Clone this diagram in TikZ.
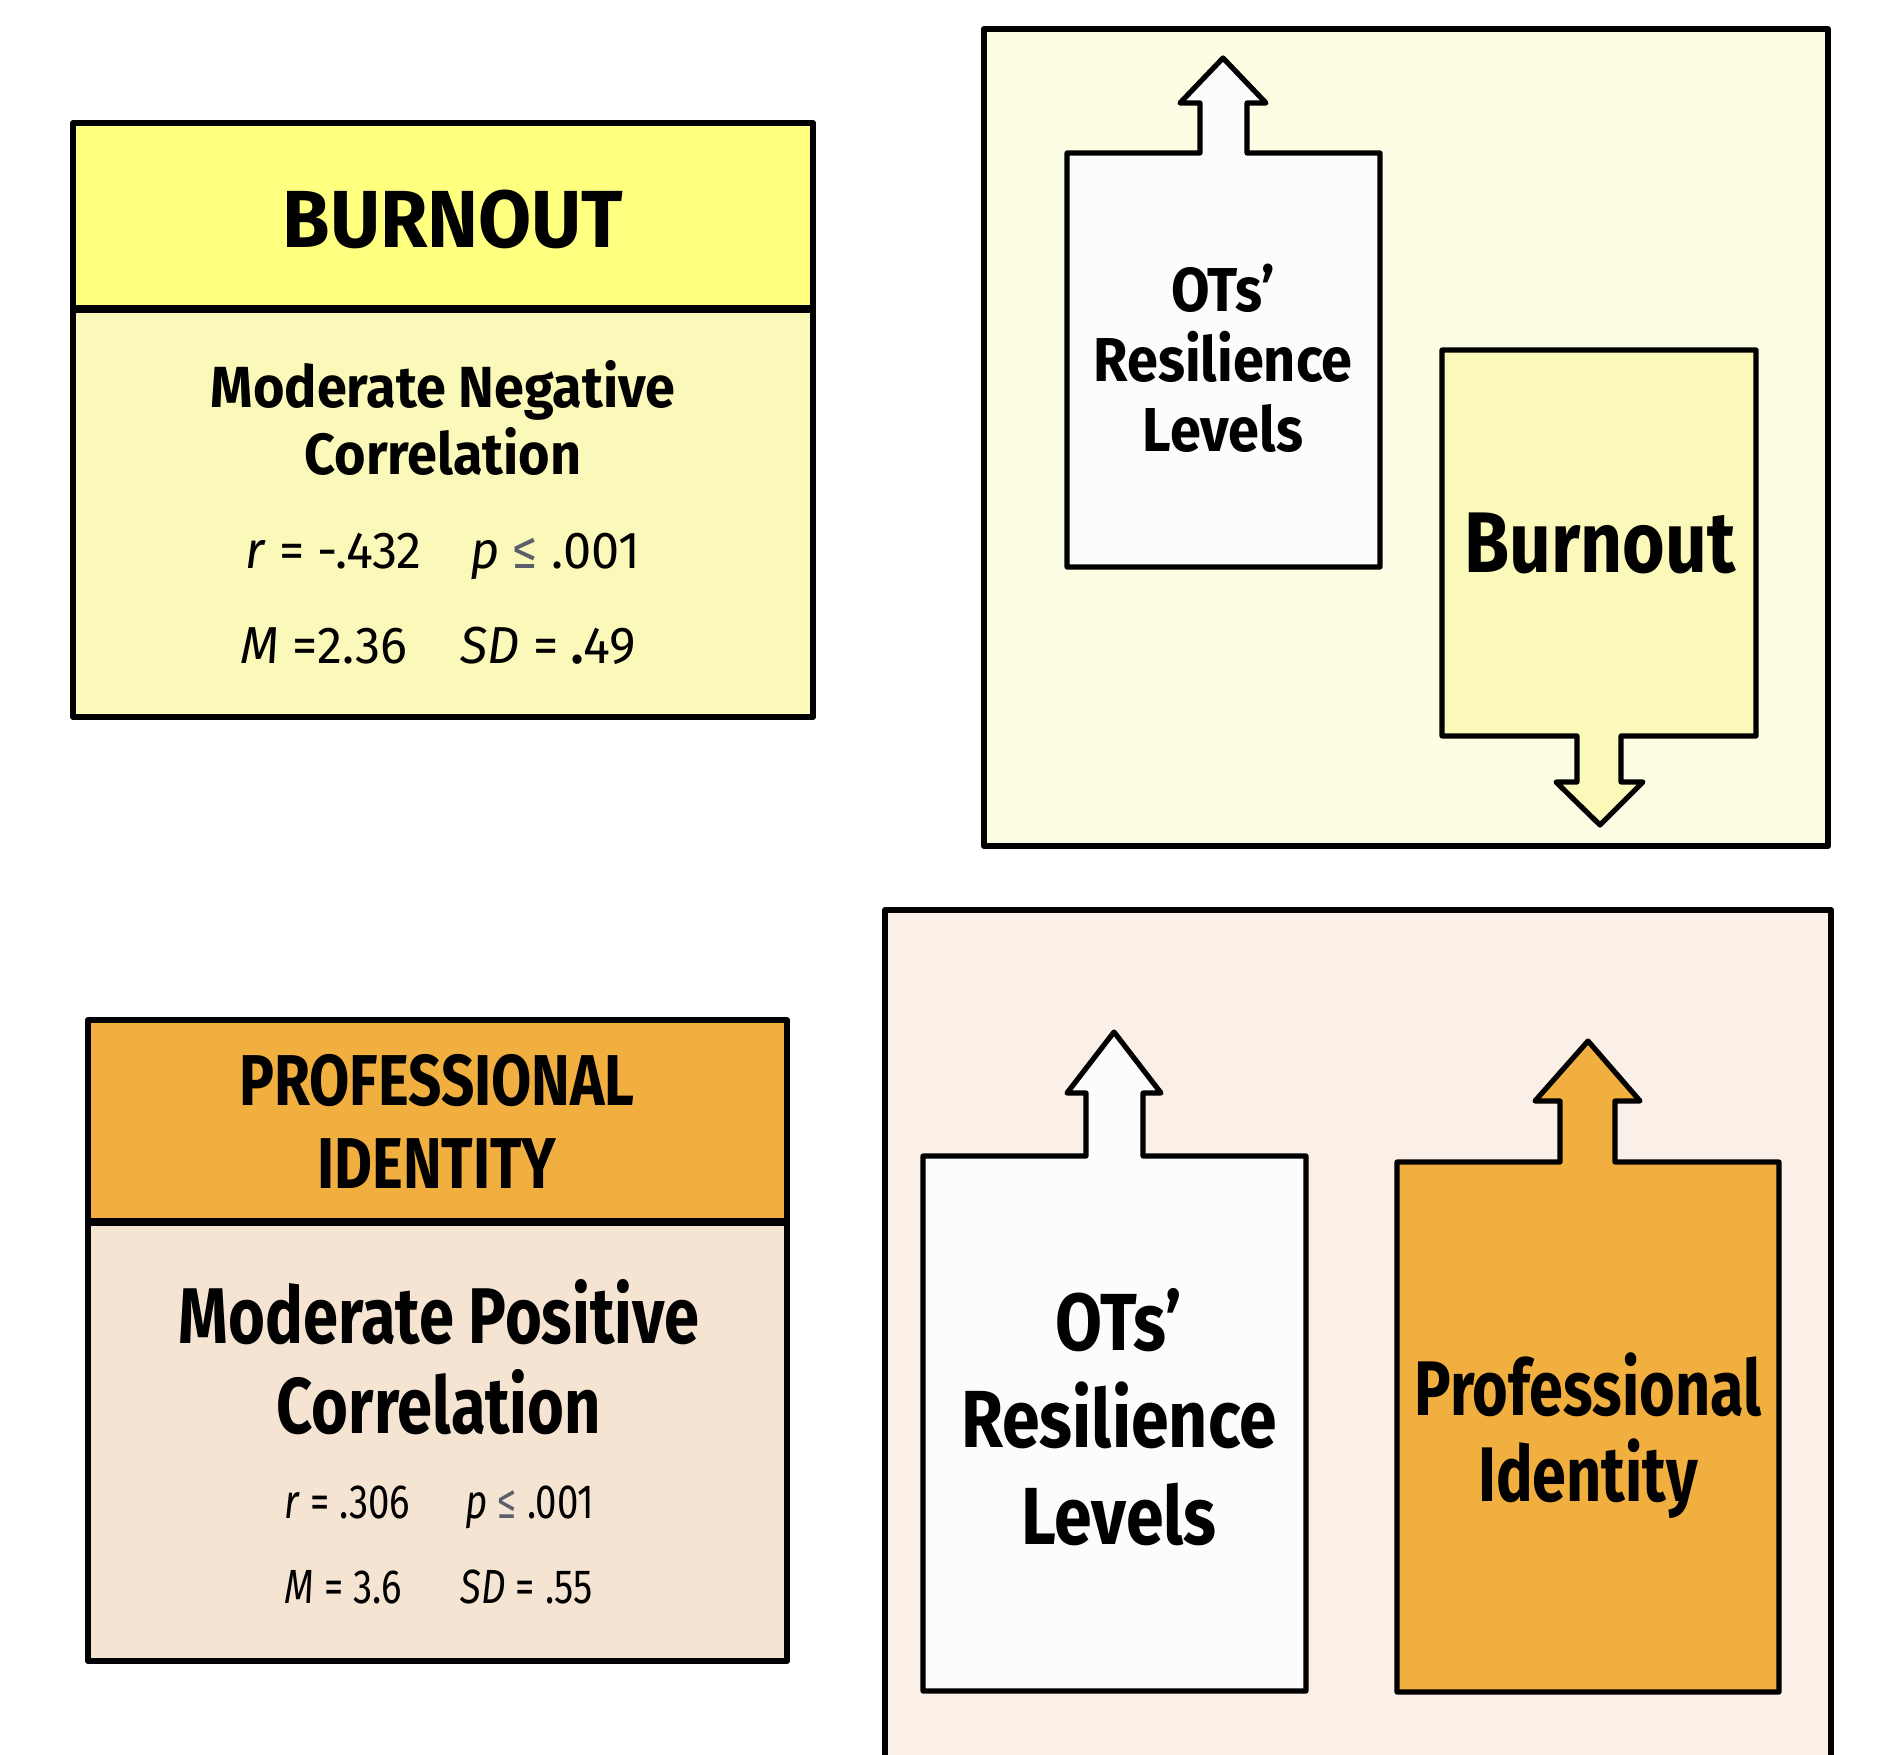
\documentclass[tikz,border=0pt]{standalone}
\usepackage{fontspec}
\setmainfont{Fira Sans}[FakeStretch=0.85]
% Fira Sans at several horizontal compressions
\newfontfamily\wBurnHead{Fira Sans}[FakeStretch=0.95]
\newfontfamily\wNegCorr{Fira Sans}[FakeStretch=0.93]
\newfontfamily\wStatTop{Fira Sans}[FakeStretch=0.97]
\newfontfamily\wResTop{Fira Sans}[FakeStretch=0.90]
\newfontfamily\wBurn{Fira Sans}[FakeStretch=0.85]
\newfontfamily\wProfHead{Fira Sans}[FakeStretch=0.81]
\newfontfamily\wPosCorr{Fira Sans}[FakeStretch=0.80]
\newfontfamily\wStatBot{Fira Sans}[FakeStretch=0.80]
\newfontfamily\wResBot{Fira Sans}[FakeStretch=0.84]
\newfontfamily\wProf{Fira Sans}[FakeStretch=0.79]
\definecolor{hdrY}{HTML}{FFFF80}
\definecolor{bodyY}{HTML}{FBF9B9}
\definecolor{panelY}{HTML}{FDFDE3}
\definecolor{hdrO}{HTML}{F1AF40}
\definecolor{bodyO}{HTML}{F6E4D2}
\definecolor{panelO}{HTML}{FBF0E7}
\definecolor{paper}{HTML}{FCFCFC}
\definecolor{leq}{HTML}{5A5F6A}
\tikzset{
  frame/.style={draw=black, line width=3pt, line join=round},
  divider/.style={draw=black, line width=4pt},
  arrowbox/.style={draw=black, line width=2.6pt, line join=round},
  lbl/.style={align=center, inner sep=0pt, text=black},
  stat/.style={inner sep=0pt, text=black, anchor=base west}
}
\newcommand{\fs}[2]{\fontsize{#1pt}{#2pt}\selectfont}
\begin{document}
\begin{tikzpicture}[x=0.5pt,y=-0.5pt]
\useasboundingbox (0,0) rectangle (1880,1755);
\clip (0,0) rectangle (1880,1755);

% ---------- Burnout summary card ----------
\fill[bodyY] (73,309) rectangle (813,717);
\fill[hdrY] (73,123) rectangle (813,309);
\draw[frame] (73,123) rectangle (813,717);
\draw[divider] (73,309) -- (813,309);
\node[lbl, font=\wBurnHead\bfseries\fs{40.5}{44}] (bhead) at (453,219) {BURNOUT};
\node[lbl, font=\wNegCorr\bfseries\fs{29}{33.5}] (bcorr) at (443,418) {Moderate Negative\\Correlation};
\node[stat, font=\wStatTop\fs{26}{30}] (br) at (245,568) {\textit{r} = -.432};
\node[stat, font=\wStatTop\fs{26}{30}] (bp) at (470,568) {\textit{p} {\color{leq}≤} .001};
\node[stat, font=\wStatTop\fs{26}{30}] (bm) at (240,663) {\textit{M} =2.36};
\node[stat, font=\wStatTop\fs{26}{30}] (bsd) at (460,663) {\textit{SD} = \textbf{.}49};

% ---------- Burnout relation panel ----------
\draw[frame, fill=panelY] (984,29) rectangle (1828,846);
\draw[arrowbox, fill=paper]
  (1067,567) -- (1067,153) -- (1200,153) -- (1200,103) -- (1180,103) -- (1223,58)
  -- (1266,103) -- (1247,103) -- (1247,153) -- (1380,153) -- (1380,567) -- cycle;
\draw[arrowbox, fill=bodyY]
  (1442,350) -- (1756,350) -- (1756,736) -- (1621,736) -- (1621,782) -- (1643,782)
  -- (1600,825) -- (1556,782) -- (1577,782) -- (1577,736) -- (1442,736) -- cycle;
\node[lbl, font=\wResTop\bfseries\fs{31}{35}] (res1) at (1223,358) {OTs’\\Resilience\\Levels};
\node[lbl, font=\wBurn\bfseries\fs{43}{47}] (burn1) at (1600,543) {Burnout};

% ---------- Professional identity summary card ----------
\fill[bodyO] (88,1222) rectangle (787,1661);
\fill[hdrO] (88,1020) rectangle (787,1222);
\draw[frame] (88,1020) rectangle (787,1661);
\draw[divider] (88,1222) -- (787,1222);
\node[lbl, font=\wProfHead\bfseries\fs{36}{41.5}] (phead) at (437,1121) {PROFESSIONAL\\IDENTITY};
\node[lbl, font=\wPosCorr\bfseries\fs{39.5}{45}] (pcorr) at (439,1357) {Moderate Positive\\Correlation};
\node[stat, font=\wStatBot\fs{24}{28}] (pr) at (284,1518) {\textit{r} = .306};
\node[stat, font=\wStatBot\fs{24}{28}] (pp) at (465,1518) {\textit{p} {\color{leq}≤} .001};
\node[stat, font=\wStatBot\fs{24}{28}] (pm) at (284,1603) {\textit{M} = 3.6};
\node[stat, font=\wStatBot\fs{24}{28}] (psd) at (460,1603) {\textit{SD} = .55};

% ---------- Professional identity relation panel ----------
\draw[frame, fill=panelO] (885,910) rectangle (1831,1800);
\draw[arrowbox, fill=paper]
  (923,1691) -- (923,1156) -- (1086,1156) -- (1086,1093) -- (1067,1093) -- (1114,1032)
  -- (1161,1093) -- (1143,1093) -- (1143,1156) -- (1306,1156) -- (1306,1691) -- cycle;
\draw[arrowbox, fill=hdrO]
  (1397,1692) -- (1397,1162) -- (1560,1162) -- (1560,1101) -- (1535,1101) -- (1588,1041)
  -- (1640,1101) -- (1615,1101) -- (1615,1162) -- (1779,1162) -- (1779,1692) -- cycle;
\node[lbl, font=\wResBot\bfseries\fs{40.5}{48.5}] (res2) at (1119,1417) {OTs’\\Resilience\\Levels};
\node[lbl, font=\wProf\bfseries\fs{38.7}{43}] (pid) at (1588,1436) {Professional\\Identity};
\end{tikzpicture}
\end{document}
